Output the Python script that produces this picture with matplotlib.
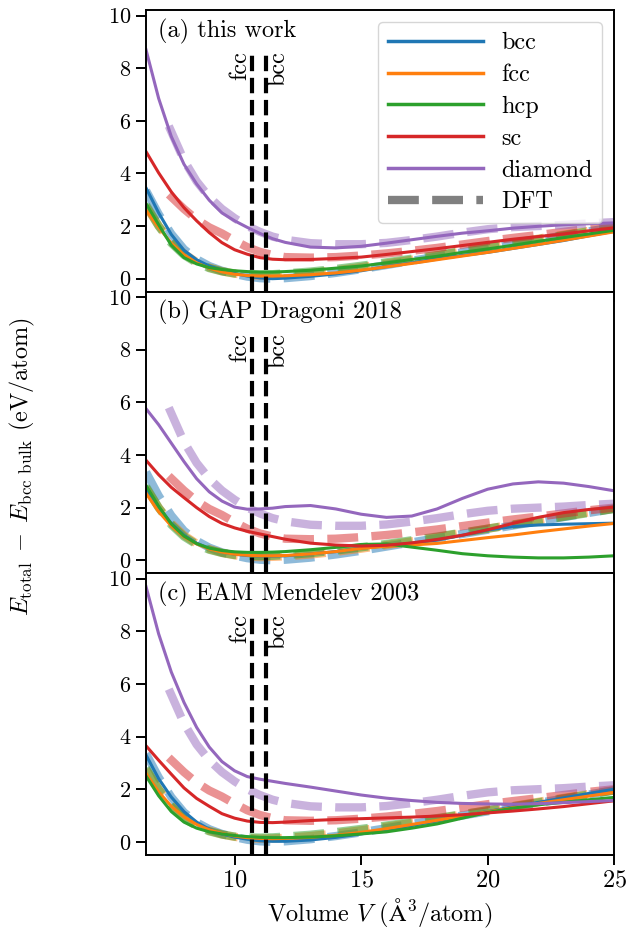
import matplotlib
matplotlib.use('Agg')
import matplotlib.pyplot as plt
from matplotlib.lines import Line2D

plt.rcParams['font.family'] = 'serif'
plt.rcParams['font.serif'] = ['cmr10']
plt.rcParams['mathtext.fontset'] = 'cm'
plt.rcParams['axes.formatter.use_mathtext'] = True
plt.rcParams['font.size'] = 17.5
plt.rcParams['ytick.labelsize'] = 16
plt.rcParams['axes.linewidth'] = 1.4
plt.rcParams['xtick.major.width'] = 1.4
plt.rcParams['ytick.major.width'] = 1.4
plt.rcParams['xtick.major.size'] = 7
plt.rcParams['ytick.major.size'] = 7

# Volume grid (A^3/atom)
volume = [6.5, 7, 7.5, 8, 8.5, 9, 9.5, 10, 10.5, 11, 11.5, 12, 13, 14, 15,
          16, 17, 18, 19, 20, 21, 22, 23, 24, 25]
# DFT sc/diamond start at a larger volume
volume_open = [7.4, 8, 8.5, 9, 9.5, 10, 10.5, 11, 11.5, 12, 13, 14, 15,
               16, 17, 18, 19, 20, 21, 22, 23, 24, 25]

structures = ['bcc', 'fcc', 'hcp', 'sc', 'diamond']
colors = ['tab:blue', 'tab:orange', 'tab:green', 'tab:red', 'tab:purple']

# DFT reference (same in all panels)
dft_bcc = [3.35, 2.45, 1.7, 1.12, 0.74, 0.48, 0.3, 0.18, 0.08, 0.02, 0.0, 0.02, 0.1, 0.22, 0.36,
           0.52, 0.68, 0.84, 1.0, 1.16, 1.32, 1.48, 1.64, 1.8, 1.96]
dft_fcc = [2.75, 2.0, 1.4, 0.95, 0.63, 0.42, 0.28, 0.19, 0.14, 0.12, 0.13, 0.15, 0.22, 0.32, 0.44,
           0.58, 0.72, 0.88, 1.04, 1.2, 1.36, 1.52, 1.67, 1.82, 1.96]
dft_hcp = [2.8, 2.0, 1.35, 0.9, 0.6, 0.4, 0.28, 0.2, 0.17, 0.16, 0.17, 0.2, 0.27, 0.37, 0.49,
           0.62, 0.76, 0.9, 1.05, 1.2, 1.35, 1.5, 1.65, 1.8, 1.95]
dft_sc = [3.2, 2.65, 2.25, 1.95, 1.72, 1.45, 1.2, 1.02, 0.9, 0.82, 0.8, 0.82, 0.88,
          0.96, 1.06, 1.17, 1.3, 1.43, 1.55, 1.66, 1.78, 1.9, 2.0]
dft_diamond = [5.8, 4.5, 3.7, 3.1, 2.65, 2.3, 2.0, 1.78, 1.6, 1.48, 1.35, 1.31, 1.31,
               1.36, 1.47, 1.6, 1.75, 1.88, 1.96, 2.0, 2.04, 2.1, 2.15]

# (a) this work
a_bcc = [3.45, 2.5, 1.68, 1.08, 0.72, 0.48, 0.33, 0.2, 0.1, 0.03, 0.0, 0.02, 0.09, 0.18, 0.3,
         0.46, 0.6, 0.75, 0.88, 1.0, 1.15, 1.3, 1.45, 1.63, 1.8]
a_fcc = [2.6, 1.95, 1.35, 0.9, 0.6, 0.4, 0.26, 0.17, 0.12, 0.1, 0.1, 0.11, 0.15, 0.22, 0.32,
         0.45, 0.58, 0.72, 0.86, 1.0, 1.15, 1.3, 1.46, 1.62, 1.78]
a_hcp = [2.86, 2.05, 1.27, 0.8, 0.56, 0.42, 0.35, 0.3, 0.27, 0.25, 0.25, 0.27, 0.32, 0.4, 0.48,
         0.6, 0.73, 0.85, 1.0, 1.13, 1.27, 1.42, 1.56, 1.7, 1.84]
a_sc = [4.83, 4.02, 3.3, 2.7, 2.2, 1.75, 1.37, 1.1, 0.93, 0.8, 0.74, 0.72, 0.73, 0.77, 0.82,
        0.92, 1.03, 1.14, 1.26, 1.38, 1.5, 1.6, 1.7, 1.82, 1.93]
a_diamond = [8.7, 6.85, 5.4, 4.35, 3.6, 2.98, 2.5, 2.2, 1.95, 1.72, 1.52, 1.38, 1.2, 1.17, 1.23,
             1.35, 1.48, 1.61, 1.73, 1.82, 1.92, 1.99, 2.05, 2.09, 2.12]

# (b) GAP Dragoni 2018
b_bcc = [2.75, 2.0, 1.4, 0.95, 0.65, 0.45, 0.32, 0.23, 0.18, 0.16, 0.16, 0.17, 0.24, 0.33, 0.46,
         0.55, 0.65, 0.77, 0.95, 1.15, 1.28, 1.34, 1.37, 1.39, 1.41]
b_fcc = [2.55, 1.85, 1.3, 0.9, 0.62, 0.43, 0.31, 0.23, 0.19, 0.17, 0.17, 0.18, 0.24, 0.33, 0.45,
         0.53, 0.58, 0.64, 0.75, 0.86, 0.96, 1.08, 1.19, 1.3, 1.4]
b_hcp = [2.85, 2.05, 1.38, 0.92, 0.63, 0.46, 0.37, 0.32, 0.3, 0.3, 0.31, 0.33, 0.4, 0.49, 0.6,
         0.62, 0.5, 0.38, 0.25, 0.17, 0.12, 0.09, 0.09, 0.12, 0.17]
b_sc = [3.8, 3.25, 2.77, 2.38, 2.0, 1.66, 1.4, 1.23, 1.1, 1.0, 0.9, 0.8, 0.65, 0.58, 0.54,
        0.57, 0.66, 0.79, 0.95, 1.16, 1.4, 1.63, 1.81, 1.93, 2.02]
b_diamond = [5.76, 5.15, 4.45, 3.75, 3.1, 2.6, 2.25, 2.02, 1.94, 1.95, 1.98, 2.04, 2.08, 1.95, 1.75,
             1.63, 1.68, 1.95, 2.35, 2.7, 2.9, 2.98, 2.93, 2.8, 2.64]

# (c) EAM Mendelev 2003
c_bcc = [3.3, 2.4, 1.7, 1.15, 0.75, 0.48, 0.3, 0.18, 0.1, 0.04, 0.02, 0.02, 0.07, 0.17, 0.3,
         0.46, 0.62, 0.8, 0.98, 1.15, 1.33, 1.5, 1.67, 1.84, 2.0]
c_fcc = [2.6, 1.9, 1.35, 0.95, 0.66, 0.46, 0.32, 0.22, 0.16, 0.13, 0.12, 0.13, 0.17, 0.25, 0.36,
         0.5, 0.66, 0.82, 0.98, 1.14, 1.3, 1.46, 1.6, 1.74, 1.88]
c_hcp = [2.5, 1.75, 1.15, 0.75, 0.52, 0.38, 0.3, 0.24, 0.2, 0.17, 0.16, 0.16, 0.18, 0.23, 0.3,
         0.38, 0.52, 0.68, 0.9, 1.12, 1.28, 1.41, 1.5, 1.6, 1.69]
c_sc = [3.65, 3.1, 2.57, 2.05, 1.65, 1.35, 1.07, 0.9, 0.79, 0.74, 0.73, 0.75, 0.81, 0.85, 0.88,
        0.91, 0.94, 0.98, 1.03, 1.1, 1.17, 1.25, 1.34, 1.45, 1.56]
c_diamond = [9.7, 7.9, 6.45, 5.3, 4.35, 3.6, 3.05, 2.7, 2.48, 2.38, 2.3, 2.22, 2.08, 1.93, 1.78,
             1.66, 1.57, 1.5, 1.46, 1.44, 1.43, 1.45, 1.49, 1.53, 1.57]

# equilibrium volumes marked with vertical lines
v_fcc = 10.7
v_bcc = 11.25

titles = ['(a) this work', '(b) GAP Dragoni 2018', '(c) EAM Mendelev 2003']
panels = [[a_bcc, a_fcc, a_hcp, a_sc, a_diamond],
          [b_bcc, b_fcc, b_hcp, b_sc, b_diamond],
          [c_bcc, c_fcc, c_hcp, c_sc, c_diamond]]
dft_x = [volume, volume, volume, volume_open, volume_open]
dft = [dft_bcc, dft_fcc, dft_hcp, dft_sc, dft_diamond]

fig, axes = plt.subplots(3, 1, figsize=(6.28, 9.33), dpi=100, sharex=True)
fig.subplots_adjust(left=0.2325, right=0.978, top=0.989, bottom=0.0836, hspace=0)

for ax, title, model in zip(axes, titles, panels):
    for i in range(5):
        ax.plot(dft_x[i], dft[i], ls='--', lw=6, color=colors[i], alpha=0.5)
    for i in range(5):
        ax.plot(volume, model[i], lw=2.2, color=colors[i])
    ax.vlines([v_fcc, v_bcc], -0.5, 8.5, colors='k', linestyles='--', lw=3)
    ax.text(v_fcc - 0.05, 8.65, 'fcc', rotation=90, ha='right', va='top')
    ax.text(v_bcc + 0.05, 8.65, 'bcc', rotation=90, ha='left', va='top')
    ax.text(0.025, 0.97, title, transform=ax.transAxes, ha='left', va='top')
    ax.set_ylim(-0.5, 10.2)
    ax.set_yticks([0, 2, 4, 6, 8, 10])
    ax.set_xlim(6.5, 25)

handles = [Line2D([], [], color=c, lw=2.5) for c in colors]
handles.append(Line2D([], [], color='grey', lw=6, ls='--'))
axes[0].legend(handles, structures + ['DFT'], loc='upper right', handlelength=3.9,
               labelspacing=0.4, handletextpad=0.75)

axes[2].set_xticks([10, 15, 20, 25])
axes[2].set_xlabel(r'Volume $V$ ($\mathrm{\AA}^3$/atom)')
fig.supylabel(r'$E_\mathrm{total}\;-\;E_\mathrm{bcc\;\,bulk}$ (eV/atom)', x=0.013,
              fontsize=17.5)

fig.savefig('out.png', dpi=100)
